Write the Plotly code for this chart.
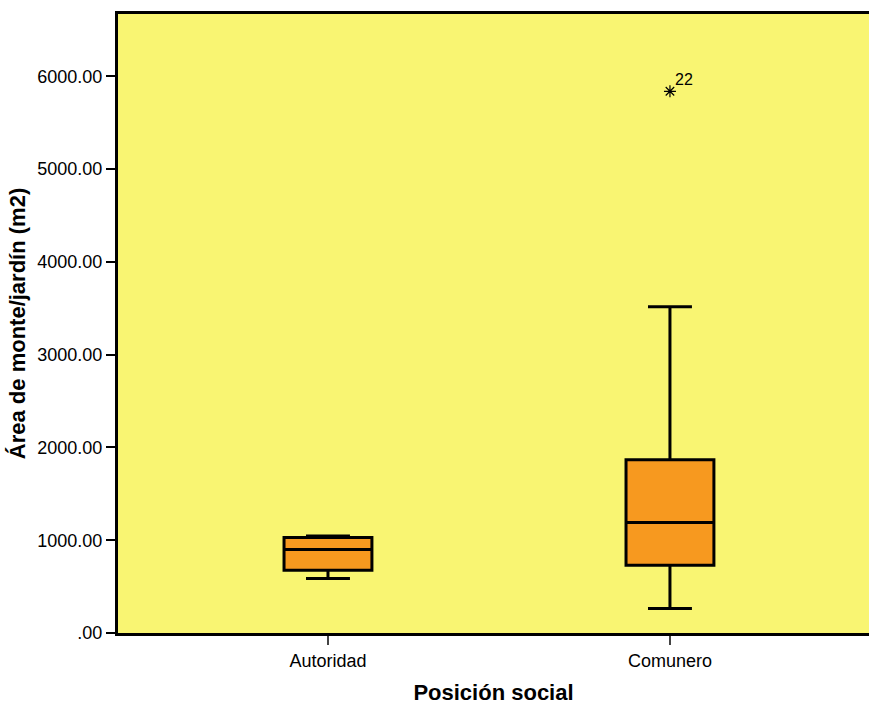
import plotly.graph_objects as go

# Data (SPSS-style boxplot)
categories = ["Autoridad", "Comunero"]
lower_whisker = [588, 265]
q1_values = [677, 731]
median_values = [900, 1190]
q3_values = [1030, 1868]
upper_whisker = [1045, 3516]

outlier_category = ["Comunero"]
outlier_values = [5839]
outlier_labels = ["22"]

tick_values = [0, 1000, 2000, 3000, 4000, 5000, 6000]
tick_labels = [".00", "1000.00", "2000.00", "3000.00", "4000.00", "5000.00", "6000.00"]

BG = "#F9F572"
BOX = "#F7991F"
FONT = "Liberation Sans, Arial, sans-serif"

fig = go.Figure()
fig.add_trace(
    go.Box(
        x=categories,
        q1=q1_values,
        median=median_values,
        q3=q3_values,
        lowerfence=lower_whisker,
        upperfence=upper_whisker,
        fillcolor=BOX,
        line={"color": "black", "width": 3},
        width=0.257,
        whiskerwidth=0.5,
        boxpoints=False,
        showlegend=False,
        hoverinfo="skip",
    )
)
fig.add_trace(
    go.Scatter(
        x=outlier_category,
        y=outlier_values,
        mode="markers",
        marker={"symbol": "asterisk-open", "size": 10, "color": "black",
                "line": {"color": "black", "width": 1.2}},
        showlegend=False,
    )
)
for cat, val, lab in zip(outlier_category, outlier_values, outlier_labels):
    fig.add_annotation(
        x=cat, y=val, text=lab, showarrow=False,
        xanchor="left", yanchor="bottom", xshift=3, yshift=1,
        font={"size": 16, "color": "black", "family": FONT},
    )

fig.update_layout(
    width=869,
    height=705,
    paper_bgcolor="white",
    plot_bgcolor=BG,
    font={"family": FONT, "color": "black", "size": 18},
    margin={"l": 118, "r": 0, "t": 14, "b": 72},
    xaxis={
        "type": "category",
        "range": [-0.614, 1.582],
        "showline": True,
        "linecolor": "black",
        "linewidth": 3,
        "mirror": True,
        "ticks": "outside",
        "ticklen": 9,
        "tickwidth": 1.5,
        "tickcolor": "#444",
        "showgrid": False,
        "tickfont": {"size": 18},
        "title": {"text": "<b>Posición social</b>", "font": {"size": 22}, "standoff": 16},
    },
    yaxis={
        "range": [0, 6672],
        "tickvals": tick_values,
        "ticktext": tick_labels,
        "showline": True,
        "linecolor": "black",
        "linewidth": 3,
        "mirror": False,
        "ticks": "outside",
        "ticklen": 9,
        "tickwidth": 2,
        "tickcolor": "black",
        "showgrid": False,
        "zeroline": False,
        "tickfont": {"size": 18},
        "title": {"text": "<b>Área de monte/jardín (m2)</b>", "font": {"size": 22}, "standoff": 6},
    },
)

fig.write_html(
    "out.html",
    config={"displayModeBar": False},
    post_script="document.body.style.margin='0';document.body.style.overflow='hidden';",
)
